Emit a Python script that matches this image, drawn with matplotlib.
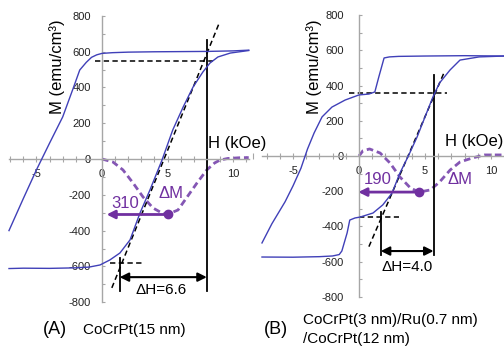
import matplotlib
matplotlib.use("Agg")
import matplotlib.pyplot as plt
from matplotlib.ticker import MultipleLocator

plt.rcParams["font.family"] = ["Liberation Sans", "DejaVu Sans"]
plt.rcParams["axes.unicode_minus"] = False

# ---- panel A: CoCrPt(15 nm) ----
A_desc_h = [11.2, 10.0, 8.0, 6.0, 4.0, 2.0, 0.8, 0.0, -0.4, -0.8, -1.2, -1.7, -2.2, -3.0, -4.0, -5.0, -6.0, -7.1]
A_desc_m = [608, 604, 601, 600, 599, 597, 594, 590, 582, 568, 540, 497, 395, 235, 89, -60, -220, -400]
A_asc_h = [-7.1, -6.0, -4.0, -2.0, -1.0, -0.15, 0.6, 1.37, 2.14, 2.9, 3.66, 4.58, 5.4, 6.2, 6.95, 7.7, 8.24, 8.85, 9.8, 10.9, 11.2]
A_asc_m = [-612, -610, -611, -608, -604, -592, -564, -525, -452, -302, -173, -6, 162, 291, 402, 486, 536, 570, 592, 603, 606]
A_dm_h = [0.0, 0.84, 1.6, 2.37, 3.13, 3.9, 4.58, 5.04, 5.8, 6.5, 7.25, 8.0, 8.6, 9.0, 9.6, 10.5, 11.2]
A_dm_m = [0, -17, -61, -134, -212, -274, -302, -308, -285, -212, -134, -61, -22, -6, 3, 7, 8]
A_dm_peak = (5.04, -310)
A_dm_tip = 0.35
A_dm_value = "310"
A_dh = (1.35, 8.0)
A_dh_label = "\u0394H=6.6"
A_sat_upper = (-0.5, 8.5, 548)
A_sat_lower = (0.6, 3.1, -583)
A_slope_line = ([0.75, 8.95], [-720, 760])

# ---- panel B: CoCrPt(3 nm)/Ru(0.7 nm)/CoCrPt(12 nm) ----
B_desc_h = [11.0, 8.0, 5.0, 3.0, 2.3, 1.9, 1.5, 1.2, 0.75, 0.0, -1.05, -2.05, -2.8, -3.4, -3.9, -4.4, -5.0, -5.6, -6.6, -7.35]
B_desc_m = [568, 570, 568, 566, 563, 557, 449, 364, 352, 347, 318, 278, 222, 131, 40, -70, -170, -260, -385, -494]
B_asc_h = [-7.35, -5.0, -3.0, -2.0, -1.5, -1.3, -0.9, -0.7, -0.3, 0.08, 1.06, 1.8, 2.5, 3.1, 3.7, 4.4, 5.0, 5.6, 6.1, 6.9, 7.65, 9.1, 11.0]
B_asc_m = [-574, -575, -572, -568, -560, -540, -437, -364, -352, -347, -324, -278, -211, -97, -6, 108, 222, 335, 415, 489, 545, 563, 568]
B_dm_h = [0.0, 0.3, 0.8, 1.6, 2.35, 3.1, 3.9, 4.55, 5.4, 6.1, 6.9, 7.65, 8.6, 9.5, 11.0]
B_dm_m = [0, 30, 40, 17, -40, -119, -182, -205, -193, -148, -80, -34, -11, 6, 6]
B_dm_peak = (4.55, -205)
B_dm_tip = -0.05
B_dm_value = "190"
B_dh = (1.65, 5.65)
B_dh_label = "\u0394H=4.0"
B_sat_upper = (-0.76, 6.7, 358)
B_sat_lower = (0.0, 3.0, -347)
B_slope_line = ([0.75, 6.45], [-515, 475])

BLUE = "#4040b8"
PURPLE = "#7030a0"
PURPLE_DASH = "#8456b4"
GRAY = "#a6a6a6"

W, H = 504, 346
fig = plt.figure(figsize=(W / 100, H / 100), dpi=100)


def make_axes(box, origin, scale):
    """box = (x0, x1, y0, y1) in image pixels, origin = pixel of (0, 0)"""
    x0, x1, y0, y1 = box
    ox, oy = origin
    sx, sy = scale
    ax = fig.add_axes([x0 / W, 1 - y1 / H, (x1 - x0) / W, (y1 - y0) / H])
    ax.set_xlim((x0 - ox) / sx, (x1 - ox) / sx)
    ax.set_ylim((oy - y1) / sy, (oy - y0) / sy)
    ax.patch.set_visible(False)
    return ax


def style_axes(ax, xspan, ypad):
    for s in ["top", "right"]:
        ax.spines[s].set_visible(False)
    for s in ["left", "bottom"]:
        ax.spines[s].set_position(("data", 0))
        ax.spines[s].set_color(GRAY)
        ax.spines[s].set_linewidth(1.0)
    ax.spines["left"].set_bounds(-800, 800)
    ax.spines["bottom"].set_bounds(*xspan)
    ax.xaxis.set_major_locator(MultipleLocator(5))
    ax.xaxis.set_minor_locator(MultipleLocator(1))
    ax.yaxis.set_major_locator(MultipleLocator(200))
    ax.yaxis.set_minor_locator(MultipleLocator(100))
    ax.set_yticks(range(-800, 801, 200))
    ax.set_xticks(range(-5, 11, 5))
    ax.tick_params(axis="x", which="both", direction="inout", length=5, width=0.8,
                   color=GRAY, labelsize=8, pad=5, labelcolor="#222222")
    ax.tick_params(axis="y", which="both", direction="in", length=2.5, width=0.8,
                   color=GRAY, labelsize=8, pad=ypad, labelcolor="#222222")


def draw_panel(ax, desc, asc, dm, peak, tip, value, dh, dh_label, sat_up, sat_lo, slope,
               texts, arrow_m, vline, short_top):
    ax.plot(desc[0], desc[1], color=BLUE, lw=1.0, zorder=3)
    ax.plot(asc[0], asc[1], color=BLUE, lw=1.0, zorder=3)
    ax.plot(dm[0], dm[1], color=PURPLE_DASH, lw=2.0, dashes=(2.4, 1.4), zorder=2)

    ax.plot([sat_up[0], sat_up[1]], [sat_up[2]] * 2, color="black", lw=1.1, dashes=(3.5, 2.2))
    ax.plot([sat_lo[0], sat_lo[1]], [sat_lo[2]] * 2, color="black", lw=1.1, dashes=(3.5, 2.2))
    ax.plot(slope[0], slope[1], color="black", lw=1.1, dashes=(3.5, 2.2))

    # coercive field width
    ax.plot([dh[1], dh[1]], vline, color="black", lw=1.3)
    ax.plot([dh[0], dh[0]], [short_top, vline[1]], color="black", lw=1.3)
    ax.annotate("", xy=(dh[0], arrow_m), xytext=(dh[1], arrow_m),
                arrowprops=dict(arrowstyle="<|-|>", color="black", lw=1.5,
                                mutation_scale=13, shrinkA=0, shrinkB=0))

    # delta M arrow
    ax.annotate("", xy=(tip, peak[1]), xytext=(peak[0], peak[1]),
                arrowprops=dict(arrowstyle="-|>", color=PURPLE, lw=2.0,
                                mutation_scale=12, shrinkA=0, shrinkB=0))
    ax.plot(peak[0], peak[1], "o", color=PURPLE, ms=6, zorder=4)

    (vx, vy), (mx, my), (hx, hy), (lx, ly), (yx, yy) = texts
    ax.text(vx, vy, value, color=PURPLE, fontsize=12, ha="center", va="center")
    ax.text(mx, my, "\u0394M", color=PURPLE, fontsize=12, ha="center", va="center")
    ax.text(hx, hy, dh_label, color="black", fontsize=11, ha="center", va="center")
    ax.text(lx, ly, "H (kOe)", color="black", fontsize=12, ha="left", va="center", clip_on=False)
    ax.text(yx, yy, "M (emu/cm\u00b3)", color="black", fontsize=12, ha="center",
            va="center", rotation=90)


axA = make_axes((0, 252, 0, 310), (102, 159), (13.1, 0.179))
style_axes(axA, (-7.1, 11.2), 8)
draw_panel(axA, (A_desc_h, A_desc_m), (A_asc_h, A_asc_m), (A_dm_h, A_dm_m),
           A_dm_peak, A_dm_tip, A_dm_value, A_dh, A_dh_label, A_sat_upper, A_sat_lower,
           A_slope_line,
           [(1.75, -246), (5.3, -190), (4.5, -732), (8.1, 89), (-3.4, 514)],
           -660, [665, -735], -553)

axB = make_axes((252, 504, 0, 310), (359, 156), (13.2, 0.176))
style_axes(axB, (-7.35, 11.0), 11)
draw_panel(axB, (B_desc_h, B_desc_m), (B_asc_h, B_asc_m), (B_dm_h, B_dm_m),
           B_dm_peak, B_dm_tip, B_dm_value, B_dh, B_dh_label, B_sat_upper, B_sat_lower,
           B_slope_line,
           [(1.45, -131), (7.65, -136), (3.64, -631), (6.5, 80), (-3.4, 506)],
           -540, [460, -565], -318)

fig.text(55 / W, 1 - 330 / H, "(A)", fontsize=13, ha="center", va="center")
fig.text(83 / W, 1 - 330 / H, "CoCrPt(15 nm)", fontsize=11, ha="left", va="center")
fig.text(276 / W, 1 - 330 / H, "(B)", fontsize=13, ha="center", va="center")
fig.text(303 / W, 1 - 320 / H, "CoCrPt(3 nm)/Ru(0.7 nm)", fontsize=11, ha="left", va="center")
fig.text(303 / W, 1 - 339 / H, "/CoCrPt(12 nm)", fontsize=11, ha="left", va="center")

fig.savefig("out.png", dpi=100)
